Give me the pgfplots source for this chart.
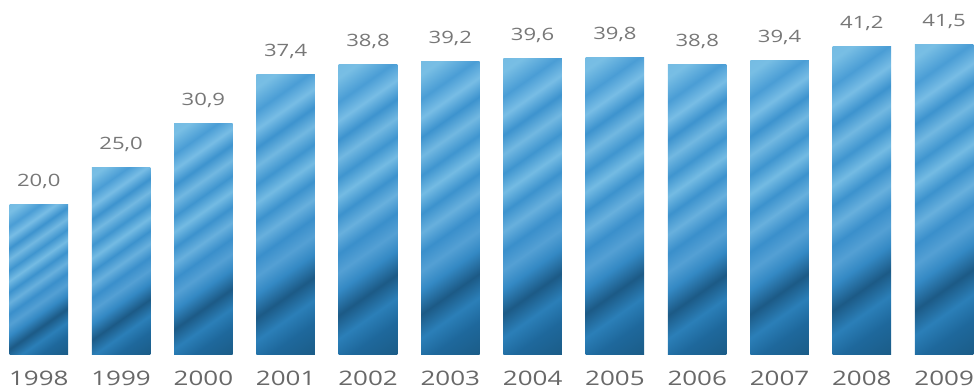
\documentclass[border=0pt]{standalone}
\usepackage{pgfplots}
\pgfplotsset{compat=1.18}
\usepackage{fontspec}
\setmainfont{Open Sans}
\newfontfamily\lab[FakeStretch=1.3]{Open Sans}
\definecolor{valgray}{HTML}{777777}
\definecolor{yeargray}{HTML}{686868}
\pgfdeclarehorizontalshading{barstreak}{100bp}{%
color(0bp)=(rgb,255:red,24;green,80;blue,120);
color(15bp)=(rgb,255:red,27;green,92;blue,135);
color(22bp)=(rgb,255:red,30;green,104;blue,156);
color(27bp)=(rgb,255:red,43;green,127;blue,184);
color(32bp)=(rgb,255:red,28;green,90;blue,134);
color(37bp)=(rgb,255:red,52;green,137;blue,196);
color(41bp)=(rgb,255:red,84;green,160;blue,212);
color(45bp)=(rgb,255:red,58;green,143;blue,203);
color(49bp)=(rgb,255:red,104;green,176;blue,221);
color(53bp)=(rgb,255:red,60;green,146;blue,205);
color(57bp)=(rgb,255:red,116;green,187;blue,227);
color(61bp)=(rgb,255:red,63;green,149;blue,207);
color(65bp)=(rgb,255:red,114;green,184;blue,225);
color(69bp)=(rgb,255:red,61;green,147;blue,206);
color(73bp)=(rgb,255:red,120;green,189;blue,229);
color(77bp)=(rgb,255:red,74;green,157;blue,213);
color(82bp)=(rgb,255:red,120;green,190;blue,228);
color(100bp)=(rgb,255:red,100;green,175;blue,222)}
\begin{document}
\begin{tikzpicture}
\begin{axis}[
  scale only axis,
  width=976pt, height=354pt,
  xmin=-0.471, xmax=11.387,
  ymin=0, ymax=47.45,
  axis x line*=bottom,
  axis y line=none,
  x axis line style={draw=none},
  major tick length=0pt,
  xtick={0,...,11},
  xticklabels={1998,1999,2000,2001,2002,2003,2004,2005,2006,2007,2008,2009},
  xticklabel style={font=\lab\fontsize{20pt}{22pt}\selectfont, text=yeargray, anchor=base, yshift=-31pt, inner sep=0pt},
  ytick=\empty,
  clip=false,
  /pgf/number format/assume math mode=true,
  nodes near coords={\pgfmathprintnumber[fixed, fixed zerofill, precision=1, use comma]{\pgfplotspointmeta}},
  every node near coord/.append style={font=\lab\fontsize{17pt}{19pt}\selectfont, text=valgray, anchor=base, yshift=18pt, inner sep=0pt},
  streakbar/.style={ybar, bar width=0.711, bar shift=0pt, draw=none, shade, shading=barstreak, shading angle=125},
]
\addplot[streakbar] coordinates {(0,20.0)};
\addplot[streakbar] coordinates {(1,25.0)};
\addplot[streakbar] coordinates {(2,30.9)};
\addplot[streakbar] coordinates {(3,37.4)};
\addplot[streakbar] coordinates {(4,38.8)};
\addplot[streakbar] coordinates {(5,39.2)};
\addplot[streakbar] coordinates {(6,39.6)};
\addplot[streakbar] coordinates {(7,39.8)};
\addplot[streakbar] coordinates {(8,38.8)};
\addplot[streakbar] coordinates {(9,39.4)};
\addplot[streakbar] coordinates {(10,41.2)};
\addplot[streakbar] coordinates {(11,41.5)};
\end{axis}
\pgfresetboundingbox
\useasboundingbox (0,-34pt) rectangle (976pt,354pt);
\end{tikzpicture}
\end{document}
